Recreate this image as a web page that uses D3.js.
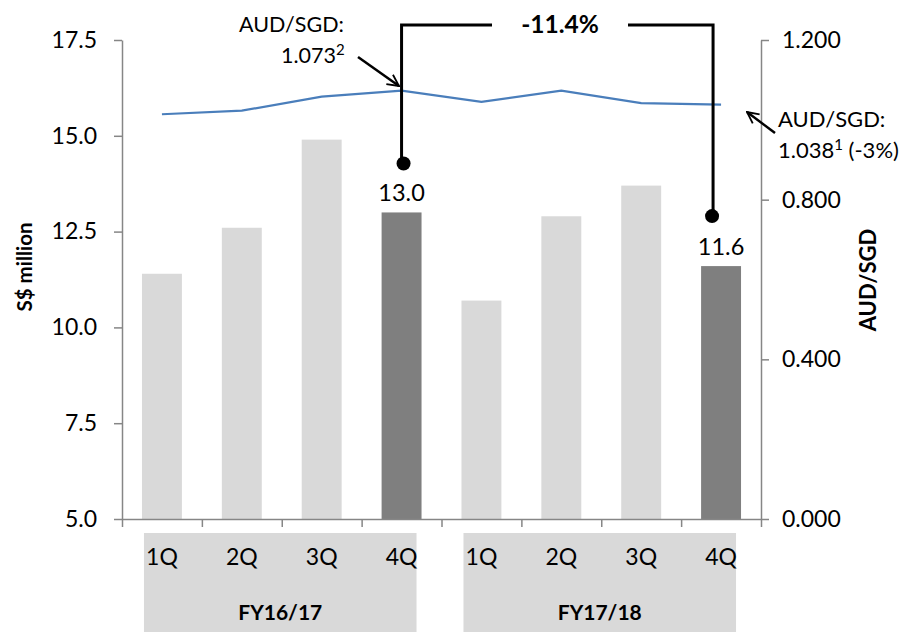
<!DOCTYPE html>
<html>
<head>
<meta charset="utf-8">
<script src="https://cdn.jsdelivr.net/npm/d3@7"></script>
<style>
  html, body { margin: 0; padding: 0; background: #fff; }
  svg { display: block; font-family: Lato, "Open Sans", sans-serif; }
</style>
</head>
<body>
<svg id="chart" width="909" height="632"></svg>
<script>
// Quarterly revenue (S$ million) and average AUD/SGD rate
const years = ["FY16/17", "FY17/18"];
const quarters = ["1Q", "2Q", "3Q", "4Q"];
const revenue = [11.4, 12.6, 14.9, 13.0, 10.7, 12.9, 13.7, 11.6];
const audSgd = [1.014, 1.023, 1.058, 1.073, 1.045, 1.073, 1.042, 1.038];
const highlighted = [false, false, false, true, false, false, false, true];
const leftTicks = [5.0, 7.5, 10.0, 12.5, 15.0, 17.5];
const rightTicks = [0, 0.4, 0.8, 1.2];
const changeLabel = "-11.4%";

const keys = [];
years.forEach(y => quarters.forEach(q => keys.push(y + " " + q)));

const svg = d3.select("#chart");
const plot = { left: 122, right: 761, top: 40, bottom: 519 };

const x = d3.scaleBand().domain(keys).range([plot.left, plot.right])
  .paddingInner(0.5).paddingOuter(0.25);
const xEdge = d3.scaleLinear().domain([0, keys.length]).range([plot.left, plot.right]);
const y = d3.scaleLinear().domain([5, 17.5]).range([plot.bottom, plot.top]);
const y2 = d3.scaleLinear().domain([0, 1.2]).range([plot.bottom, plot.top]);

const axisColor = "#868686";

// Category group boxes under the axis
years.forEach((yr, i) => {
  const first = keys[i * 4], last = keys[i * 4 + 3];
  const x0 = x(first) + 2, x1 = x(last) + x.bandwidth() - 5;
  svg.append("rect").attr("x", x0).attr("y", 533).attr("width", x1 - x0).attr("height", 99)
    .attr("fill", "#d9d9d9");
  svg.append("text").attr("x", (x0 + x1) / 2).attr("y", 620).attr("text-anchor", "middle")
    .attr("font-size", 21).attr("font-weight", "bold").attr("fill", "#000").text(yr);
});
keys.forEach((k, i) => {
  svg.append("text").attr("x", x(k) + x.bandwidth() / 2).attr("y", 565)
    .attr("text-anchor", "middle").attr("font-size", 23).attr("fill", "#000")
    .text(quarters[i % 4]);
});

// Bars
svg.append("g").selectAll("rect").data(revenue).join("rect")
  .attr("x", (d, i) => x(keys[i]))
  .attr("width", x.bandwidth())
  .attr("y", d => y(d))
  .attr("height", d => plot.bottom - y(d))
  .attr("fill", (d, i) => highlighted[i] ? "#7f7f7f" : "#d9d9d9");

// Axes
function styleAxis(g) {
  g.selectAll(".domain").attr("stroke", axisColor).attr("stroke-width", 1.5);
  g.selectAll(".tick line").attr("stroke", axisColor).attr("stroke-width", 1.5);
  g.selectAll(".tick text").attr("fill", "#000").attr("font-size", 23)
    .attr("font-family", "Lato, 'Open Sans', sans-serif");
}
svg.append("g").attr("transform", `translate(${plot.left},0)`)
  .call(d3.axisLeft(y).tickValues(leftTicks).tickFormat(d3.format(".1f"))
    .tickSize(8).tickSizeOuter(0).tickPadding(17))
  .call(styleAxis);
svg.append("g").attr("transform", `translate(${plot.right},0)`)
  .call(d3.axisRight(y2).tickValues(rightTicks).tickFormat(d3.format(".3f"))
    .tickSize(8).tickSizeOuter(0).tickPadding(13))
  .call(styleAxis);
svg.append("g").attr("transform", `translate(0,${plot.bottom})`)
  .call(d3.axisBottom(xEdge).tickValues(d3.range(keys.length + 1)).tickFormat("")
    .tickSize(8).tickSizeOuter(0))
  .call(styleAxis);

// Axis titles
svg.append("text").attr("transform", "translate(32,267) rotate(-90)")
  .attr("text-anchor", "middle").attr("font-size", 20.5).attr("font-weight", "bold")
  .text("S$ million");
svg.append("text").attr("transform", "translate(876,280) rotate(-90)")
  .attr("text-anchor", "middle").attr("font-size", 22).attr("font-weight", "bold")
  .text("AUD/SGD");

// AUD/SGD line
const cx = i => x(keys[i]) + x.bandwidth() / 2;
svg.append("path").datum(audSgd)
  .attr("d", d3.line().x((d, i) => cx(i)).y(d => y2(d)))
  .attr("fill", "none").attr("stroke", "#4a7ebb").attr("stroke-width", 2.2);

// Value labels on the highlighted bars
revenue.forEach((v, i) => {
  if (!highlighted[i]) return;
  svg.append("text").attr("x", cx(i)).attr("y", y(v) - 11).attr("text-anchor", "middle")
    .attr("font-size", 23.5).attr("fill", "#000").text(d3.format(".1f")(v));
});

// Year-on-year change bracket
const bx1 = cx(3), bx2 = cx(7) - 8, by = 25;
const d1 = y(revenue[3]) - 49, d2 = y(revenue[7]) - 50;
svg.append("path")
  .attr("d", `M${bx1},${d1}V${by}H492M628,${by}H${bx2}V${d2}`)
  .attr("fill", "none").attr("stroke", "#000").attr("stroke-width", 3);
svg.append("circle").attr("cx", bx1 + 2).attr("cy", d1).attr("r", 7).attr("fill", "#000");
svg.append("circle").attr("cx", bx2 - 1).attr("cy", d2).attr("r", 7).attr("fill", "#000");
svg.append("text").attr("x", 560).attr("y", 33).attr("text-anchor", "middle")
  .attr("font-size", 24.5).attr("font-weight", "bold").text(changeLabel);

// Arrow markers
const defs = svg.append("defs");
defs.append("marker").attr("id", "arrow").attr("viewBox", "0 0 12 12")
  .attr("refX", 11).attr("refY", 6).attr("markerWidth", 5.5).attr("markerHeight", 5.5)
  .attr("markerUnits", "strokeWidth").attr("orient", "auto")
  .append("path").attr("d", "M1,1 L11,6 L1,11").attr("fill", "none")
  .attr("stroke", "#000").attr("stroke-width", 1.6);

// Rate callouts
const callout1 = svg.append("text").attr("font-size", 21.5).attr("fill", "#000");
callout1.append("tspan").attr("x", 239).attr("y", 32).text("AUD/SGD:");
callout1.append("tspan").attr("x", 281).attr("y", 63).text(d3.format(".3f")(audSgd[3]));
callout1.append("tspan").attr("dy", -8).attr("font-size", 15).text("2");
svg.append("line").attr("x1", 358).attr("y1", 57).attr("x2", 399).attr("y2", 86)
  .attr("stroke", "#000").attr("stroke-width", 2.5).attr("marker-end", "url(#arrow)");

const callout2 = svg.append("text").attr("font-size", 22).attr("fill", "#000");
callout2.append("tspan").attr("x", 778).attr("y", 127).text("AUD/SGD:");
callout2.append("tspan").attr("x", 778).attr("y", 158).text(d3.format(".3f")(audSgd[7]));
callout2.append("tspan").attr("dy", -8).attr("font-size", 15).text("1");
callout2.append("tspan").attr("dy", 8).text(" (-3%)");
svg.append("line").attr("x1", 775).attr("y1", 133).attr("x2", 747).attr("y2", 112)
  .attr("stroke", "#000").attr("stroke-width", 2.5).attr("marker-end", "url(#arrow)");
</script>
</body>
</html>
